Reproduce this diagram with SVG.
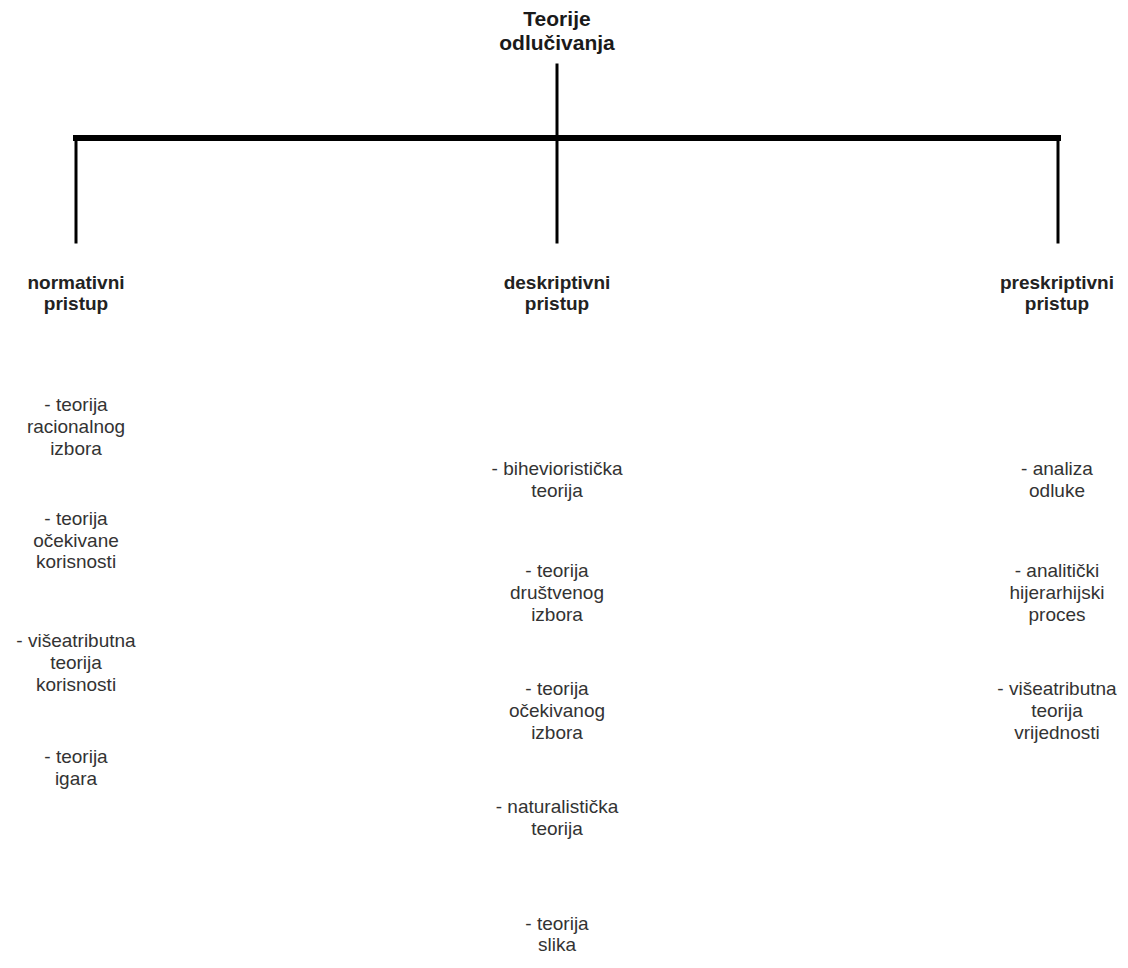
<svg xmlns="http://www.w3.org/2000/svg" width="1128" height="968" viewBox="0 0 1128 968">
<style>
text{font-family:"Liberation Sans",Arial,sans-serif;text-anchor:middle;}
.t{font-size:21px;font-weight:bold;fill:#1a1a1a;}
.h{font-size:19px;font-weight:bold;fill:#222;}
.i{font-size:19px;fill:#333;}
.c{stroke:#000;fill:none;stroke-linecap:square;}
</style>
<rect width="1128" height="968" fill="#fff"/>
<g id="connectors">
<line class="c" x1="76" y1="138" x2="1058" y2="138" stroke-width="6"/>
<line class="c" x1="557" y1="65" x2="557" y2="242" stroke-width="3"/>
<line class="c" x1="76" y1="138" x2="76" y2="242" stroke-width="3"/>
<line class="c" x1="1058" y1="138" x2="1058" y2="242" stroke-width="3"/>
</g>
<g id="root"><text class="t" x="557" y="26">Teorije</text><text class="t" x="557" y="50">odlučivanja</text></g>
<g id="normativni"><text class="h" x="76" y="289">normativni</text><text class="h" x="76" y="310">pristup</text></g>
<g id="deskriptivni"><text class="h" x="557" y="289">deskriptivni</text><text class="h" x="557" y="310">pristup</text></g>
<g id="preskriptivni"><text class="h" x="1057" y="289">preskriptivni</text><text class="h" x="1057" y="310">pristup</text></g>
<g id="n1"><text class="i" x="76" y="411">- teorija</text><text class="i" x="76" y="433">racionalnog</text><text class="i" x="76" y="455">izbora</text></g>
<g id="n2"><text class="i" x="76" y="525">- teorija</text><text class="i" x="76" y="547">očekivane</text><text class="i" x="76" y="568">korisnosti</text></g>
<g id="n3"><text class="i" x="76" y="647">- višeatributna</text><text class="i" x="76" y="669">teorija</text><text class="i" x="76" y="691">korisnosti</text></g>
<g id="n4"><text class="i" x="76" y="763">- teorija</text><text class="i" x="76" y="785">igara</text></g>
<g id="d1"><text class="i" x="557" y="475">- bihevioristička</text><text class="i" x="557" y="497">teorija</text></g>
<g id="d2"><text class="i" x="557" y="577">- teorija</text><text class="i" x="557" y="599">društvenog</text><text class="i" x="557" y="621">izbora</text></g>
<g id="d3"><text class="i" x="557" y="695">- teorija</text><text class="i" x="557" y="717">očekivanog</text><text class="i" x="557" y="739">izbora</text></g>
<g id="d4"><text class="i" x="557" y="813">- naturalistička</text><text class="i" x="557" y="835">teorija</text></g>
<g id="d5"><text class="i" x="557" y="930">- teorija</text><text class="i" x="557" y="951">slika</text></g>
<g id="p1"><text class="i" x="1057" y="475">- analiza</text><text class="i" x="1057" y="497">odluke</text></g>
<g id="p2"><text class="i" x="1057" y="577">- analitički</text><text class="i" x="1057" y="599">hijerarhijski</text><text class="i" x="1057" y="621">proces</text></g>
<g id="p3"><text class="i" x="1057" y="695">- višeatributna</text><text class="i" x="1057" y="717">teorija</text><text class="i" x="1057" y="739">vrijednosti</text></g>
</svg>
